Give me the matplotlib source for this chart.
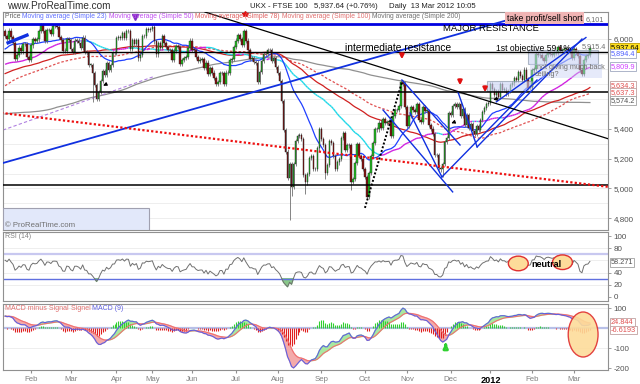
import numpy as np
import pandas as pd
import matplotlib
matplotlib.use('Agg')
import matplotlib.pyplot as plt
from matplotlib.collections import LineCollection
from matplotlib.patches import Rectangle, Ellipse

plt.rcParams['font.family'] = ['Liberation Sans', 'DejaVu Sans']

# FTSE 100 daily closes before the visible window (only used to warm up the averages)
pre_2010_mar = [5681, 5680]
pre_2010_apr = [5744, 5780, 5762, 5745, 5727, 5770, 5786, 5792, 5824, 5743,
                5763, 5741, 5723, 5786, 5777, 5760, 5603, 5587, 5545, 5553]
pre_2010_may = [5411, 5341, 5260, 5123, 5388, 5334, 5388, 5383, 5262, 5158,
                5307, 5187, 5174, 5062, 5069, 4940, 5038, 5195, 5188]
pre_2010_jun = [5163, 5151, 5212, 5126, 5069, 5086, 5132, 5164, 5163, 5202, 5163,
                5212, 5218, 5250, 5251, 5299, 5217, 5156, 5121, 5046, 4915, 4917]
pre_2010_jul = [4805, 4838, 4823, 4965, 5014, 5106, 5155, 5135, 5153, 5197, 5131,
                5159, 5148, 5139, 5214, 5313, 5352, 5315, 5352, 5293, 5277, 5258]
pre_2010_aug = [5397, 5396, 5386, 5364, 5332, 5376, 5379, 5245, 5245, 5275, 5302,
                5276, 5292, 5211, 5195, 5113, 5155, 5119, 5151, 5201, 5225]
pre_2010_sep = [5366, 5371, 5428, 5407, 5440, 5408, 5431, 5495, 5565, 5557, 5539,
                5509, 5603, 5581, 5551, 5541, 5563, 5590, 5578, 5574, 5549, 5549]
pre_2010_oct = [5592, 5555, 5635, 5682, 5662, 5657, 5747, 5661, 5727, 5703, 5757,
                5703, 5646, 5728, 5741, 5742, 5710, 5646, 5677, 5675, 5676]
pre_2010_nov = [5694, 5749, 5862, 5876, 5875, 5849, 5816, 5815, 5796, 5820, 5732,
                5681, 5643, 5734, 5769, 5782, 5681, 5657, 5668, 5627, 5551, 5528]
pre_2010_dec = [5643, 5771, 5799, 5746, 5808, 5796, 5807, 5794, 5861, 5855, 5891,
                5882, 5881, 5902, 5871, 5885, 5956, 5997, 5970, 5971, 5900]
pre_2011_jan = [6013, 5984, 6019, 5985, 5957, 6015, 6051]

# visible window: 13 Jan 2011 - 13 Mar 2012
c_2011_jan = [6023, 6002, 6057, 6015, 5976, 5867, 5896, 5943, 5917, 5969, 5965, 5881, 5863]
c_2011_feb = [5957, 6000, 5987, 5997, 6052, 6091, 6052, 5990, 6062, 6060,
              6037, 6085, 6087, 6083, 6014, 5996, 5923, 5919, 6001, 5994]
c_2011_mar = [5936, 5914, 5990, 5990, 5974, 5940, 6010, 5914, 5907, 5828, 5829, 5775,
              5695, 5598, 5643, 5718, 5786, 5762, 5838, 5796, 5824, 5905, 5909]
c_2011_apr = [6009, 6016, 6007, 6041, 6007, 6056, 6053, 5932, 5996, 5964,
              5996, 5870, 5896, 6022, 6018, 6069, 6060, 6069]
c_2011_may = [6082, 5984, 5897, 5976, 5942, 6018, 5976, 5945, 5925, 5925,
              5861, 5923, 5955, 5948, 5836, 5858, 5871, 5880, 5938, 5990]
c_2011_jun = [5929, 5928, 5880, 5856, 5863, 5864, 5804, 5843, 5765, 5808, 5776,
              5742, 5698, 5714, 5773, 5775, 5697, 5776, 5772, 5857, 5866, 5946]
c_2011_jul = [5990, 6024, 6003, 5961, 6055, 5990, 5929, 5868, 5870, 5847, 5843,
              5714, 5781, 5855, 5900, 5899, 5925, 5929, 5856, 5873, 5815]
c_2011_aug = [5775, 5718, 5585, 5393, 5247, 5069, 5164, 5008, 5162, 5320, 5351,
              5357, 5331, 5092, 5040, 5096, 5206, 5217, 5131, 5130, 5268, 5395]
c_2011_sep = [5330, 5292, 5102, 5156, 5318, 5306, 5215, 5130, 5174, 5197, 5337,
              5368, 5260, 5289, 5288, 5041, 5066, 5172, 5295, 5217, 5197, 5128]
c_2011_oct = [5076, 4944, 5102, 5217, 5304, 5400, 5395, 5441, 5404, 5467, 5436,
              5442, 5450, 5350, 5488, 5525, 5525, 5553, 5713, 5702, 5544]
c_2011_nov = [5421, 5484, 5545, 5527, 5511, 5567, 5460, 5444, 5545, 5519, 5519,
              5424, 5401, 5363, 5223, 5222, 5139, 5127, 5164, 5312, 5337, 5505]
c_2011_dec = [5489, 5552, 5568, 5547, 5567, 5484, 5529, 5428, 5491, 5402,
              5430, 5387, 5364, 5419, 5389, 5457, 5512, 5537, 5566, 5572]
c_2012_jan = [5700, 5668, 5624, 5649, 5612, 5698, 5662, 5662, 5636, 5653, 5693,
              5703, 5741, 5728, 5782, 5751, 5724, 5796, 5733, 5672, 5681]
c_2012_feb = [5790, 5797, 5901, 5892, 5890, 5875, 5852, 5895, 5906, 5899, 5892,
              5904, 5906, 5945, 5928, 5917, 5935, 5936, 5915, 5926, 5871]
c_2012_mar = [5931, 5912, 5889, 5791, 5765, 5862, 5887, 5892, 5937.64]

# a few intraday extremes that stick out as long wicks
wick_lows = {'2011-08-09': 4791, '2011-08-10': 4950, '2011-08-19': 4960,
             '2011-09-05': 5060, '2011-09-22': 4990, '2011-10-04': 4930,
             '2011-11-25': 5080, '2011-03-16': 5580}

uk_holidays = ['2011-04-22', '2011-04-25', '2011-04-29', '2011-05-02', '2011-05-30',
               '2011-08-29', '2011-12-26', '2011-12-27', '2012-01-02']

pre = (pre_2010_mar + pre_2010_apr + pre_2010_may + pre_2010_jun + pre_2010_jul +
       pre_2010_aug + pre_2010_sep + pre_2010_oct + pre_2010_nov + pre_2010_dec + pre_2011_jan)
vis = (c_2011_jan + c_2011_feb + c_2011_mar + c_2011_apr + c_2011_may + c_2011_jun +
       c_2011_jul + c_2011_aug + c_2011_sep + c_2011_oct + c_2011_nov + c_2011_dec +
       c_2012_jan + c_2012_feb + c_2012_mar)

dates = pd.bdate_range('2011-01-13', '2012-03-13', freq='C', holidays=uk_holidays)
n = len(vis)
dates = dates[:n]
allc = pd.Series(pre + vis, dtype=float)
npre = len(pre)
x = np.arange(n)
close = np.array(vis, dtype=float)
opn = np.r_[pre[-1], close[:-1]]

# indicators
sma = {p: allc.rolling(p).mean().values[npre:] for p in (23, 50, 78, 100, 200)}
ema12 = allc.ewm(span=12, adjust=False).mean()
ema26 = allc.ewm(span=26, adjust=False).mean()
macd_all = ema12 - ema26
sig_all = macd_all.ewm(span=9, adjust=False).mean()
macd = macd_all.values[npre:]
sig = sig_all.values[npre:]
hist = macd - sig
d = allc.diff()
up = d.clip(lower=0).ewm(alpha=1/14, adjust=False).mean()
dn = (-d.clip(upper=0)).ewm(alpha=1/14, adjust=False).mean()
rsi = (100 - 100 / (1 + up / dn)).values[npre:]

W, H = 640, 384
fig = plt.figure(figsize=(W / 100, H / 100), dpi=100)


def rect(x0, y0, x1, y1):
    return [x0 / W, 1 - y1 / H, (x1 - x0) / W, (y1 - y0) / H]


ax = fig.add_axes(rect(3, 12, 608, 230))
rax = fig.add_axes(rect(3, 232, 608, 301))
max_ = fig.add_axes(rect(3, 304, 608, 370))
XL = (-1.06, 303.1)
for a in (ax, rax, max_):
    a.set_xlim(*XL)
    for s in a.spines.values():
        s.set_color('#909090')
        s.set_linewidth(0.8)
    a.yaxis.tick_right()
    a.tick_params(axis='y', labelsize=5.8, colors='#909090', labelcolor='#505050',
                  length=2, pad=2, width=0.6)
    a.set_xticks([])

# ---- price panel
ax.set_ylim(4722, 6181)
ax.set_yticks([4800, 5000, 5200, 5400, 6000])
ax.set_yticklabels(['4,800', '5,000', '5,200', '5,400', '6,000'])
for v in range(4800, 6200, 100):
    ax.axhline(v, color='#eeeeee', lw=0.7, zorder=0)

# moving averages
ax.plot(x, sma[200], color='#909090', lw=0.9, zorder=2)
ax.plot(x, sma[100], color='#e05050', lw=0.9, ls=(0, (2, 1.5)), zorder=2)
ax.plot(x, sma[78], color='#d02020', lw=0.9, zorder=2)
pts = np.column_stack([x, sma[50]]).reshape(-1, 1, 2)
segs = np.concatenate([pts[:-1], pts[1:]], axis=1)
cols = np.where(np.diff(sma[50]) >= 0, '#d020e0', '#20d8e8')
ax.add_collection(LineCollection(segs, colors=cols, lw=1.0, zorder=2))
ax.plot(x, sma[23], color='#2040ff', lw=0.9, zorder=2)

# candles
hi = np.maximum(opn, close) + 14
lo = np.minimum(opn, close) - 14
for k, v in wick_lows.items():
    i = dates.get_loc(pd.Timestamp(k))
    lo[i] = v
upc = close >= opn
ax.vlines(x, lo, hi, color='#707070', lw=0.6, zorder=3)
body = np.maximum(np.abs(close - opn), 3)
ax.bar(x, body, bottom=np.minimum(opn, close), width=0.75,
       color=np.where(upc, '#22c022', '#8a1010'), edgecolor='#202020', lw=0.3, zorder=4)

# hand drawn levels and trendlines
levels = [(6101, '#0000e0', 2.0), (5915.4, 'black', 1.0), (5646.9, 'black', 1.1),
          (5024.1, 'black', 1.1)]
for v, c, lw in levels:
    ax.axhline(v, color=c, lw=lw, zorder=5)

trend_blue = [(-2, 5167, 268, 6185, 1.3), (1.5, 5975, 11, 6026, 2.4),
              (190, 5525, 225, 4977, 1.0), (199.5, 5726, 228.7, 5291, 1.0),
              (203.6, 5505, 219.6, 5077, 1.0), (219.6, 5077, 267.4, 5726, 1.0),
              (227.7, 5645, 237.3, 5278, 1.0), (237.3, 5278, 290, 6000, 1.0),
              (247, 5580, 292, 6010, 1.0)]
for x0, y0, x1, y1, lw in trend_blue:
    ax.plot([x0, x1], [y0, y1], color='#1030e0', lw=lw, zorder=5)
ax.plot([-1.06, 44.2, 75], [5391, 5605, 5750], color='#b080e0', lw=0.8, ls=(0, (3, 2)), zorder=2)
ax.plot([100.5, 305], [6180.6, 5325], color='black', lw=0.9, zorder=5)
ax.plot([-2, 305], [5506, 5008], color='#ee1010', lw=1.6, ls=(0, (1, 1)), zorder=5)
ax.plot([180.9, 199.5], [4870, 5712], color='black', lw=1.4, ls=(0, (1, 1)), zorder=5)

# shaded boxes
box_kw = dict(facecolor='#c8d2f4', edgecolor='#8090a0', alpha=0.6, lw=0.8, zorder=4.5)
ax.add_patch(Rectangle((242.5, 5650), 22.5, 66, **box_kw))
ax.add_patch(Rectangle((263, 5835), 35, 90, **box_kw))
ax.add_patch(Rectangle((264, 5737), 36, 97, facecolor='#c8d2f4', edgecolor='none',
                       alpha=0.45, zorder=4.5))
ax.add_patch(Rectangle((-1.06, 4722), 73.5, 145, facecolor='#e2e8fa', edgecolor='#a0a0b0',
                       lw=0.8, zorder=4.5))
ax.text(0, 4740, '© ProRealTime.com', fontsize=5.6, color='#707070', zorder=6)

# texts
ax.text(244.3, 6072, 'MAJOR RESISTANCE', fontsize=6.8, ha='center', va='center', zorder=7)
ax.text(197.5, 5940, 'intermediate resistance', fontsize=7.4, ha='center', va='center', zorder=7)
ax.text(247, 5940, '1st objective 59.1%', fontsize=6.2, va='center', zorder=7)
ax.text(290, 5948, '5,915.4', fontsize=5.2, color='#707070', va='center', zorder=7)
ax.add_patch(Rectangle((251.3, 6104), 39.5, 74, facecolor='#f0b4b4', edgecolor='none', zorder=6))
ax.text(252.5, 6140, 'take profit/sell short', fontsize=6.2, va='center', zorder=7)
ax.text(292, 6130, '6,101', fontsize=5.2, color='#707070', va='center', zorder=7)
ax.text(267.5, 5812, 'not giving much back', fontsize=5.2, color='#707070', va='center', zorder=7)
ax.text(266.5, 5765, 'ceiling?', fontsize=5.2, color='#707070', va='center', zorder=7)

for xi, yi in [(199.5, 5846), (228.7, 5672), (241.3, 5625)]:
    ax.annotate('', xy=(xi, yi), xytext=(xi, yi + 75),
                arrowprops=dict(arrowstyle='-|>', color='#e01010', lw=1.6,
                                mutation_scale=6), zorder=8)
for xi, yi, dx, dy in [(48, 5680, 4, 25), (223, 5430, 4, 20), (244, 5590, 5, 15)]:
    ax.annotate('', xy=(xi, yi), xytext=(xi + dx, yi + dy),
                arrowprops=dict(arrowstyle='-|>', color='black', lw=0.8,
                                mutation_scale=5), zorder=8)
ax.plot([65.3], [6150], marker='v', ms=4, color='#8030c0', zorder=8, clip_on=False)
ax.plot([120.6], [6168], marker='*', ms=4, color='#e01010', zorder=8, clip_on=False)

# right side value tags
tags = [(5944, '5,937.64', 'black', '#ffe020', '#c0a000'),
        (5904, '5,894.4', '#5060ff', 'white', '#a0a8c0'),
        (5815, '5,809.9', '#d040ff', 'white', '#a0a8c0'),
        (5692, '5,634.3', '#e05050', 'white', '#c0a0a0'),
        (5644, '5,637.3', '#e05050', 'white', '#c0a0a0'),
        (5587, '5,574.2', '#505050', 'white', '#a0a0a0')]
for yv, s, tc, fc, ec in tags:
    ax.text(1.005, yv, s, transform=ax.get_yaxis_transform(), fontsize=5.3, color=tc,
            va='center', ha='left', clip_on=False,
            bbox=dict(boxstyle='square,pad=0.12', fc=fc, ec=ec, lw=0.6), zorder=9)

# ---- RSI panel
rax.set_ylim(-6.6, 106.6)
rax.set_yticks([0, 20, 40, 80, 100])
for v in (20, 40, 60, 80):
    rax.axhline(v, color='#eeeeee', lw=0.7, zorder=0)
rax.axhline(70, color='#c8c8f0', lw=1.6)
rax.axhline(30, color='#6070e0', lw=1.0)
rax.fill_between(x, rsi, 30, where=rsi < 30, color='#88c888', interpolate=True)
rax.plot(x, rsi, color='#707070', lw=0.7)
for cx, cy in ((258, 55), (280.2, 57)):
    rax.add_patch(Ellipse((cx, cy), 10, 24, facecolor='#fddc9a', edgecolor='#e03030', lw=1.0, zorder=5))
rax.text(264.5, 54, 'neutral', fontsize=6.5, fontweight='bold', va='center', zorder=6)
rax.text(1.005, 56.2, '58.271', transform=rax.get_yaxis_transform(), fontsize=5.3,
         color='#505050', va='center', clip_on=False,
         bbox=dict(boxstyle='square,pad=0.12', fc='white', ec='#a0a0a0', lw=0.6))

# ---- MACD panel
max_.set_ylim(-208.5, 121.5)
max_.set_yticks([-200, -100, 100])
max_.set_yticklabels(['-200', '-100', '100'])
for v in (100, -100):
    max_.axhline(v, color='#eeeeee', lw=0.7, zorder=0)
max_.axhline(0, color='#b8c0e8', lw=1.6, zorder=1)
max_.fill_between(x, macd, sig, where=macd >= sig, color='#a8e8a0', interpolate=True, zorder=2)
max_.fill_between(x, macd, sig, where=macd < sig, color='#f4aaaa', interpolate=True, zorder=2)
max_.vlines(x, 0, hist, color=np.where(hist >= 0, '#30d030', '#e02020'), lw=0.8, zorder=3)
max_.plot(x, sig, color='#f07070', lw=0.8, zorder=4)
max_.plot(x, macd, color='#6060e0', lw=0.8, zorder=4)
max_.add_patch(Ellipse((290.6, -31), 15, 225, facecolor='#fddc9a', edgecolor='#e03030', lw=1.0,
                       alpha=0.9, zorder=5))
max_.annotate('', xy=(221.5, -60), xytext=(221.5, -100),
              arrowprops=dict(arrowstyle='-|>', color='#30d030', lw=2.2, mutation_scale=6))
max_.text(1.005, 28, '24.844', transform=max_.get_yaxis_transform(), fontsize=5.3,
          color='#e05050', va='center', clip_on=False,
          bbox=dict(boxstyle='square,pad=0.12', fc='white', ec='#c0a0a0', lw=0.6))
max_.text(1.005, -9, '-6.6193', transform=max_.get_yaxis_transform(), fontsize=5.3,
          color='#e05050', va='center', clip_on=False,
          bbox=dict(boxstyle='square,pad=0.12', fc='white', ec='#c0a0a0', lw=0.6))

# month axis
mstart = [i for i in range(1, n) if dates[i].month != dates[i - 1].month]
mlab = ['2012' if dates[i].month == 1 else dates[i].strftime('%b') for i in mstart]
max_.set_xticks(mstart)
max_.set_xticklabels(mlab)
max_.tick_params(axis='x', labelsize=5.6, labelcolor='#808080', colors='#909090',
                 length=2.5, pad=1.5)
for t in max_.get_xticklabels():
    if t.get_text() == '2012':
        t.set_fontsize(6.6)
        t.set_fontweight('bold')
        t.set_color('black')

# header
fig.text(7 / W, 1 - 6 / H, 'www.ProRealTime.com', fontsize=7.2, color='#303030', va='center')
fig.text(250 / W, 1 - 6 / H, 'UKX - FTSE 100', fontsize=5.6, color='#202020', va='center')
fig.text(314 / W, 1 - 6 / H, '5,937.64 (+0.76%)', fontsize=5.6, color='#202020', va='center')
fig.text(389 / W, 1 - 6 / H, 'Daily  13 Mar 2012 10:05', fontsize=5.6, color='#202020', va='center')

fig.canvas.draw()
r = fig.canvas.get_renderer()


def row(items, x0, y0, size):
    xp = x0
    for s, c in items:
        t = fig.text(xp / W, 1 - y0 / H, s, fontsize=size, color=c, va='center')
        xp += t.get_window_extent(renderer=r).width


row([('Price ', '#606060'), ('Moving average (Simple 23) ', '#6070ff'),
     ('Moving average (Simple 50) ', '#c050f0'), ('Moving average (Simple 78) ', '#e06060'),
     ('Moving average (Simple 100) ', '#e07070'), ('Moving average (Simple 200)', '#707070')],
    5, 17, 4.85)
row([('MACD minus Signal ', '#e07070'), ('Signel ', '#e07070'), ('MACD (9)', '#6060e0')],
    5, 309, 5.0)
row([('RSI (14)', '#808080')], 5, 237, 5.0)

fig.savefig('out.png', dpi=100)
